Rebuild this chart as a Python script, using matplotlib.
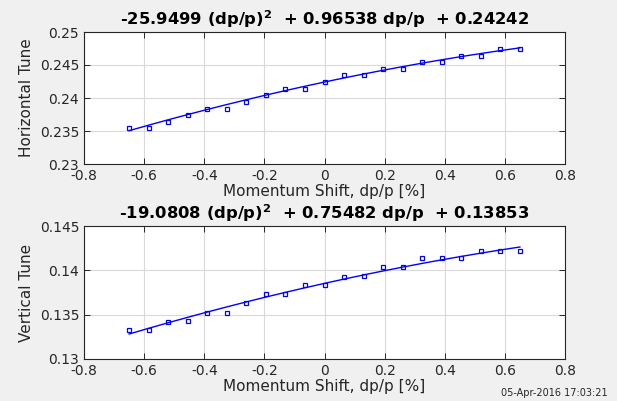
import numpy as np
import matplotlib
matplotlib.use("Agg")
import matplotlib.pyplot as plt

# momentum shift dp/p [%]
dpp = [-0.65, -0.585, -0.52, -0.455, -0.39, -0.325, -0.26, -0.195, -0.13, -0.065, 0.0,
       0.065, 0.13, 0.195, 0.26, 0.325, 0.39, 0.455, 0.52, 0.585, 0.65]
h_tune = [0.23545, 0.2355, 0.23636, 0.23742, 0.23833, 0.23833, 0.23939, 0.24045, 0.24136, 0.2414, 0.24242,
          0.24344, 0.24348, 0.24434, 0.24439, 0.24545, 0.2455, 0.24636, 0.24636, 0.24738, 0.24742]
v_tune = [0.13324, 0.13324, 0.1342, 0.13424, 0.13522, 0.13522, 0.13628, 0.13729, 0.13729, 0.13831, 0.13834,
          0.13928, 0.13932, 0.14034, 0.14034, 0.14135, 0.14135, 0.14135, 0.14221, 0.14221, 0.14221]
h_fit = [-25.9499, 0.96538, 0.24242]
v_fit = [-19.0808, 0.75482, 0.13853]
h_title = r"-25.9499 (dp/p)$^{\mathbf{2}}$  + 0.96538 dp/p  + 0.24242"
v_title = r"-19.0808 (dp/p)$^{\mathbf{2}}$  + 0.75482 dp/p  + 0.13853"
xticks = [-0.8, -0.6, -0.4, -0.2, 0, 0.2, 0.4, 0.6, 0.8]
h_yticks = [0.23, 0.235, 0.24, 0.245, 0.25]
v_yticks = [0.13, 0.135, 0.14, 0.145]
timestamp = "05-Apr-2016 17:03:21"

plt.rcParams['font.family'] = ['DejaVu Sans']
fig = plt.figure(figsize=(6.17, 4.01), dpi=100, facecolor='#f0f0f0')

W, H = 617, 401
def pos(l, t, r, b):
    return [l / W, 1 - b / H, (r - l) / W, (b - t) / H]

axes_spec = [
    (pos(84, 32, 565, 164), h_tune, h_fit, h_title, "Horizontal Tune", h_yticks),
    (pos(84, 226, 565, 359), v_tune, v_fit, v_title, "Vertical Tune", v_yticks),
]

x = np.array(dpp)
for rect, y, fit, title, ylab, yt in axes_spec:
    ax = fig.add_axes(rect)
    ax.set_facecolor('white')
    ax.plot(x, y, linestyle='none', marker='s', markersize=3, markerfacecolor='none',
            markeredgecolor='#0000ff', markeredgewidth=0.9)
    ax.plot(x, np.polyval(fit, x / 100.0), color='#0000ff', linewidth=1.0)
    ax.set_xlim(-0.8, 0.8)
    ax.set_ylim(yt[0], yt[-1])
    ax.set_xticks(xticks)
    ax.set_xticklabels(["%g" % v for v in xticks])
    ax.set_yticks(yt)
    ax.set_yticklabels(["%g" % v for v in yt])
    ax.grid(True, color='#d9d9d9', linewidth=0.8)
    ax.set_axisbelow(True)
    ax.tick_params(direction='in', top=True, right=True, labelsize=10, length=4,
                   colors='#262626', width=0.7)
    for s in ax.spines.values():
        s.set_color('#262626')
        s.set_linewidth(0.8)
    ax.set_title(title, fontsize=11.8, fontweight='bold', pad=5)
    ax.set_ylabel(ylab, fontsize=11, color='#262626')
    ax.set_xlabel("Momentum Shift, dp/p [%]", fontsize=11, color='#262626', labelpad=1)

fig.text(608 / W, 1 - 393 / H, timestamp, fontsize=7, ha='right', va='center', color='#262626')
fig.savefig("out.png", dpi=100, facecolor=fig.get_facecolor())
